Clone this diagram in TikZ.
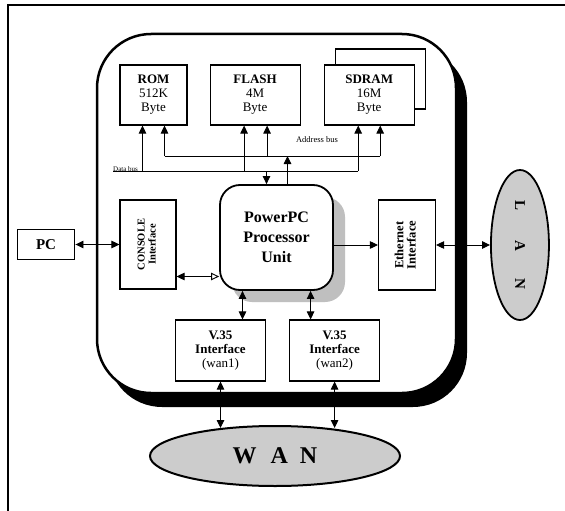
\documentclass[tikz,border=0pt]{standalone}
\usepackage{fontspec}
\setmainfont{Liberation Serif}
\usetikzlibrary{arrows.meta}
\usetikzlibrary{positioning, shapes.geometric, shadows}

\newcommand{\sidetext}[1]{\rotatebox{90}{\begin{tabular}{@{}c@{}}#1\end{tabular}}}

\begin{document}
\begin{tikzpicture}[x=1pt, y=-1pt,
    box/.style={draw, line width=1.1pt, inner sep=0pt, align=center, fill=white,
        font=\fontsize{13}{14}\selectfont},
    mem/.style={box, minimum height=60pt},
    wanbox/.style={box, minimum width=90pt, minimum height=61pt},
    sidebox/.style={box, minimum width=57pt, minimum height=90pt},
    cloud/.style={ellipse, draw, line width=1.8pt, fill=gray!40, inner sep=0pt},
    link/.style={line width=0.9pt, {Triangle[length=8pt,width=7.5pt]}-{Triangle[length=8pt,width=7.5pt]}},
    tolink/.style={line width=0.9pt, -{Triangle[length=8pt,width=7.5pt]}},
    buslabel/.style={inner sep=0pt}]
    \useasboundingbox (0,0) rectangle (565,511);
    \draw[line width=1.5pt] (8,511) -- (8,5) -- (565,5);

    \node[draw, line width=2.5pt, rounded corners=54pt, fill=white,
        minimum width=359pt, minimum height=359pt,
        general shadow={fill=black, shadow xshift=11pt, shadow yshift=-14pt}] (board) at (276.5,213.5) {};

    \node[mem, minimum width=67pt] (rom) at (153.5,95) {\textbf{ROM}\\512K\\Byte};
    \node[mem, minimum width=90pt, right=22pt of rom] (flash) {\textbf{FLASH}\\4M\\Byte};
    \node[mem, minimum width=90pt, right=23pt of flash,
        general shadow={draw, fill=white, line width=1.1pt, shadow xshift=11pt, shadow yshift=16pt}] (sdram) {\textbf{SDRAM}\\16M\\Byte};

    \node[draw, line width=1.8pt, rounded corners=20pt, fill=white, align=center,
        minimum width=113pt, minimum height=105pt, font=\bfseries\fontsize{16}{20}\selectfont,
        general shadow={fill=gray!50, shadow xshift=12pt, shadow yshift=-12pt}] (proc) at (276.5,237.5) {PowerPC\\Processor\\Unit};

    \node[sidebox, minimum width=56pt, minimum height=89pt, font=\bfseries\fontsize{10.5}{11}\selectfont] (con) at (148,244.5) {\sidetext{CONSOLE\\Interface}};
    \node[box, line width=1.8pt, minimum width=57pt, minimum height=30pt, font=\bfseries\fontsize{15}{16}\selectfont, left=44pt of con] (pc) {PC};
    \node[sidebox, font=\bfseries\fontsize{12.5}{12}\selectfont] (eth) at (407,245) {\sidetext{Ethernet\\Interface}};
    \node[cloud, minimum width=58pt, minimum height=150pt, right=54pt of eth] (lan) {\rotatebox{-90}{\bfseries\fontsize{15}{15}\selectfont L\hspace{30pt}A\hspace{28pt}N}};

    \node[wanbox] (wan1) at (220.5,350.5) {\textbf{V.35}\\\textbf{Interface}\\(wan1)};
    \node[wanbox, right=23pt of wan1] (wan2) {\textbf{V.35}\\\textbf{Interface}\\(wan2)};
    \node[cloud, line width=2pt, minimum width=250pt, minimum height=60pt] (wan) at (275,456) {\bfseries\fontsize{24}{24}\selectfont W\hspace{14pt}A\hspace{12pt}N};

    \coordinate (abus) at (0,156);
    \coordinate (dbus) at (113,171);
    \coordinate (rom a) at ([xshift=11pt]rom.south);
    \coordinate (rom d) at ([xshift=-11pt]rom.south);
    \coordinate (flash a) at ([xshift=12pt]flash.south);
    \coordinate (flash d) at ([xshift=-11pt]flash.south);
    \coordinate (sdram a) at ([xshift=11pt]sdram.south);
    \coordinate (sdram d) at ([xshift=-11pt]sdram.south);
    \coordinate (proc a) at ([xshift=11pt]proc.north);
    \coordinate (proc d) at ([xshift=-10pt]proc.north);

    \draw[line width=0.9pt] (rom a |- abus) -- (sdram a |- abus);
    \draw[line width=0.9pt] (dbus) -- (sdram d |- dbus);
    \draw[tolink] (rom a |- abus) -- (rom a);
    \draw[tolink] (flash a |- abus) -- (flash a);
    \draw[tolink] (sdram a |- abus) -- (sdram a);
    \draw[tolink] (rom d |- dbus) -- (rom d);
    \draw[tolink] (flash d |- dbus) -- (flash d);
    \draw[tolink] (sdram d |- dbus) -- (sdram d);
    \draw[tolink] (proc a) -- (proc a |- abus);
    \draw[tolink] (proc d |- dbus) -- (proc d);
    \node[buslabel, font=\fontsize{8.5}{9}\selectfont] (alabel) at (317,140) {Address bus};
    \node[buslabel, anchor=base west, font=\fontsize{7}{8}\selectfont] (dlabel) at (113,171) {Data bus};

    \draw[link] (pc) -- (con);
    \coordinate (con p) at ([yshift=-32pt]con.east);
    \draw[line width=0.9pt, {Triangle[length=8pt,width=7.5pt]}-{Triangle[open,length=8pt,width=7.5pt]}] (con p) -- (con p -| proc.west);
    \draw[tolink] (eth.west -| proc.east) -- (eth.west);
    \draw[link] (eth) -- (eth -| lan.west);

    \coordinate (w1 p) at ([xshift=22pt]wan1.north);
    \coordinate (w2 p) at ([xshift=-24pt]wan2.north);
    \draw[link] (w1 p |- proc.south) -- (w1 p);
    \draw[link] (w2 p |- proc.south) -- (w2 p);
    \coordinate (wan top) at ([yshift=-3pt]wan.north);
    \draw[link] (wan1.south) -- (wan1.south |- wan top);
    \draw[link] (wan2.south) -- (wan2.south |- wan top);
\end{tikzpicture}
\end{document}
